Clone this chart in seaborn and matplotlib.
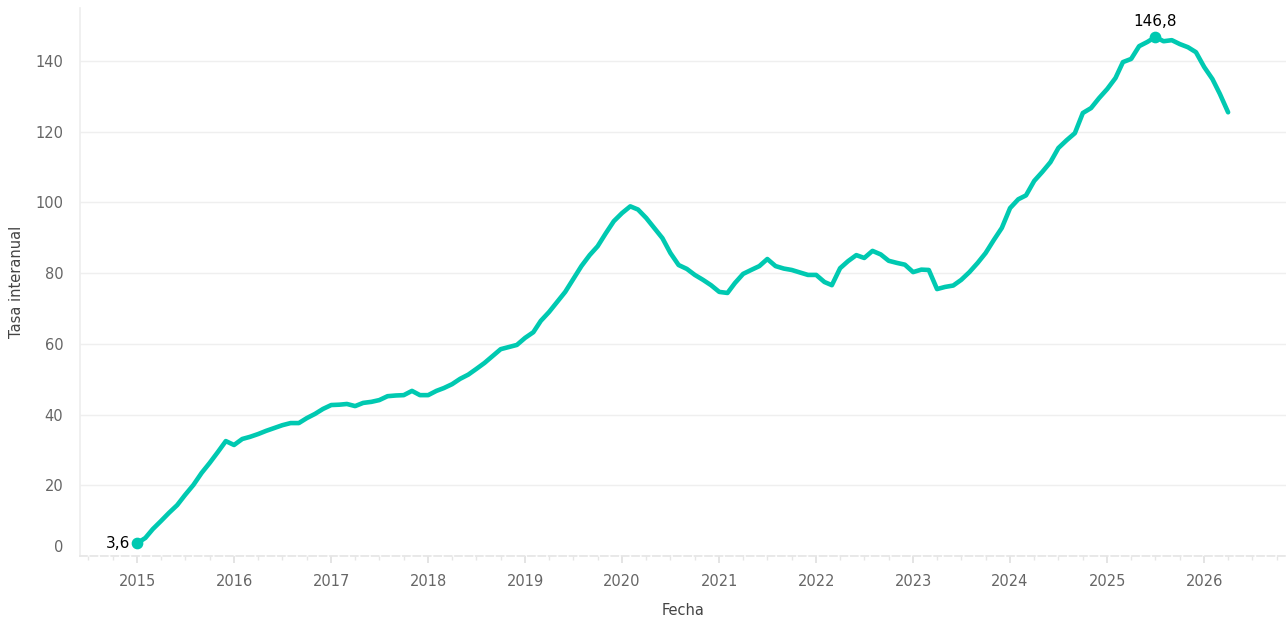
import pandas as pd
import numpy as np
import matplotlib
matplotlib.use("Agg")
import matplotlib.pyplot as plt
import matplotlib.dates as mdates
import matplotlib.transforms as mtransforms
import seaborn as sns

# Monthly year-on-year rate, 2015-01 .. 2026-04
start_month = "2015-01-01"
tasa = [
    3.6, 5.1, 7.6, 9.9, 12.2, 14.4, 17.3, 20.1, 23.5, 26.3, 29.4, 32.5,          # 2015
    31.4, 33.1, 33.7, 34.5, 35.4, 36.2, 37.0, 37.6, 37.6, 39.0, 40.2, 41.6,      # 2016
    42.7, 42.8, 43.0, 42.4, 43.3, 43.6, 44.1, 45.2, 45.4, 45.5, 46.7, 45.5,      # 2017
    45.5, 46.7, 47.5, 48.6, 50.1, 51.3, 52.9, 54.6, 56.6, 58.5, 59.1, 59.7,      # 2018
    61.7, 63.3, 66.5, 69.0, 71.8, 74.7, 78.3, 82.0, 85.1, 87.6, 91.3, 94.7,      # 2019
    97.0, 98.9, 98.0, 95.6, 92.8, 89.9, 85.7, 82.3, 81.2, 79.5, 78.1, 76.6,      # 2020
    74.7, 74.4, 77.2, 79.8, 80.9, 82.0, 84.0, 82.0, 81.3, 80.9, 80.2, 79.5,      # 2021
    79.5, 77.5, 76.6, 81.4, 83.4, 85.1, 84.3, 86.3, 85.3, 83.5, 82.9, 82.4,      # 2022
    80.3, 81.0, 80.9, 75.5, 76.1, 76.5, 78.1, 80.3, 82.9, 85.7, 89.4, 92.8,      # 2023
    98.4, 100.9, 102.0, 106.1, 108.6, 111.4, 115.4, 117.6, 119.6, 125.3, 126.7, 129.5,  # 2024
    132.1, 135.2, 139.7, 140.6, 144.2, 145.4, 146.8, 145.6, 145.9, 144.8, 143.9, 142.5,  # 2025
    138.3, 134.9, 130.7, 125.5,                                                  # 2026
]
fechas = pd.date_range(start_month, periods=len(tasa), freq="MS")
df = pd.DataFrame({"Fecha": fechas, "Tasa interanual": tasa})

LINE_COLOR = "#00c9b1"

sns.set_theme(style="white")
plt.rcParams["font.family"] = ["DejaVu Sans"]

fig = plt.figure(figsize=(12.86, 6.19), dpi=100)
ax = fig.add_axes([80 / 1286, 63 / 619, 1206 / 1286, 548 / 619])

sns.lineplot(data=df, x="Fecha", y="Tasa interanual", ax=ax,
             color=LINE_COLOR, linewidth=3.3, solid_capstyle="round", zorder=3)

# first value and maximum, highlighted
i_max = int(np.argmax(tasa))
ax.scatter([fechas[0], fechas[i_max]], [tasa[0], tasa[i_max]],
           s=55, color=LINE_COLOR, zorder=4)
ax.annotate(f"{tasa[0]:.1f}".replace(".", ","), (fechas[0], tasa[0]),
            xytext=(-5, 0), textcoords="offset points",
            ha="right", va="center", fontsize=11, color="black")
ax.annotate(f"{tasa[i_max]:.1f}".replace(".", ","), (fechas[i_max], tasa[i_max]),
            xytext=(0, 6), textcoords="offset points",
            ha="center", va="bottom", fontsize=11, color="black")

ax.set_xlim(pd.Timestamp("2014-05-31"), pd.Timestamp("2026-11-05"))
ax.set_ylim(0, 155)
ax.set_yticks([0, 20, 40, 60, 80, 100, 120, 140])

ax.xaxis.set_major_locator(mdates.YearLocator())
ax.xaxis.set_major_formatter(mdates.DateFormatter("%Y"))
ax.xaxis.set_minor_locator(mdates.MonthLocator(bymonth=[1, 4, 7, 10]))

ax.yaxis.grid(True, color="#efefef", linewidth=1)
ax.xaxis.grid(False)
for side in ["top", "right"]:
    ax.spines[side].set_visible(False)
ax.spines["left"].set_color("#eeeeee")
ax.spines["bottom"].set_color("#e6e6e6")
ax.spines["bottom"].set_linestyle((0, (4, 2)))

ax.tick_params(axis="x", which="major", length=5, color="#e0e0e0",
               labelcolor="#666666", labelsize=10.5, pad=8, bottom=True)
ax.tick_params(axis="x", which="minor", length=3, color="#e6e6e6", bottom=True)
ax.tick_params(axis="y", length=0, labelcolor="#666666", labelsize=10.5, pad=12)

# the "0" label sits a little above the baseline in the reference
zero_lbl = ax.yaxis.get_major_ticks()[0].label1
zero_lbl.set_transform(zero_lbl.get_transform()
                       + mtransforms.ScaledTranslation(0, 10 / 100, fig.dpi_scale_trans))

ax.set_xlabel("Fecha", fontsize=10.5, color="#444444", labelpad=10)
ax.set_ylabel("Tasa interanual", fontsize=10.5, color="#444444", labelpad=8)

fig.savefig("out.png", dpi=100)
